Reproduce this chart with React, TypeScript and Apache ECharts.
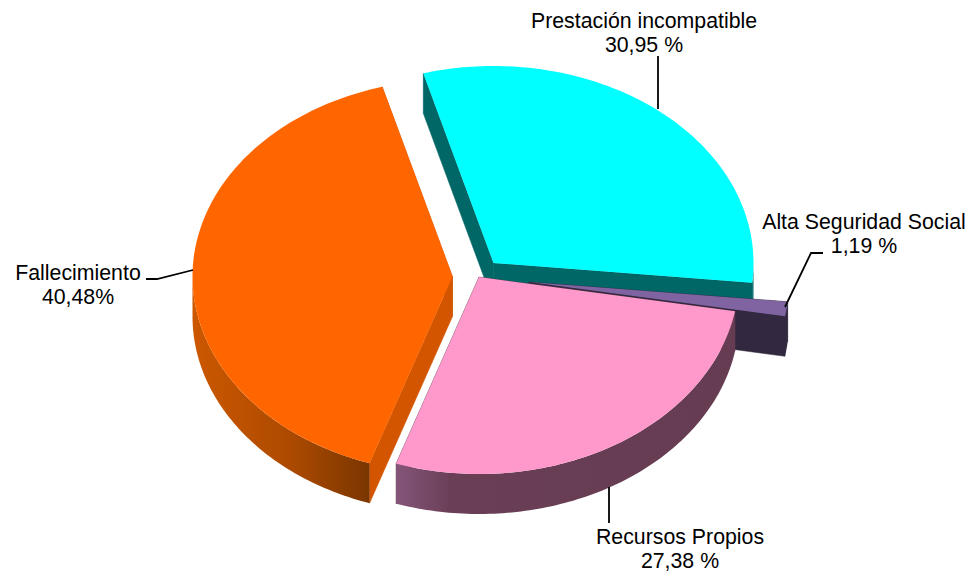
import React, { useEffect, useRef } from "react";
import * as echarts from "echarts";

const categories = ["Fallecimiento", "Prestación incompatible", "Alta Seguridad Social", "Recursos Propios"];
const percentValues = [40.48, 30.95, 1.19, 27.38];
const percentLabels = ["40,48%", "30,95 %", "1,19 %", "27,38 %"];

const startAngle = 108.6;
const radiusX = 260;
const radiusY = 197;
const depth = 40;
const centers = [[452.5, 276.5], [493.5, 263], [529, 282], [479, 277]];
const topColors = ["#FF6600", "#00FFFF", "#8064A2", "#FF99CC"];
const sideColors = ["#D35500", "#006666", "#32283F", "#663C52"];
const rimStops = [
  [[0, "#CC5800"], [0.55, "#AD4A00"], [1, "#7A3600"]],
  [[0, "#006666"], [1, "#006666"]],
  [[0, "#32283F"], [1, "#32283F"]],
  [[0, "#85557A"], [0.16, "#6A3F56"], [1, "#663C52"]],
];
const drawOrder = [1, 2, 0, 3];

const labelAnchors = [[78, 273], [644, 21], [864, 222], [680, 537]];
const leaderLines = [
  [[146, 279], [157, 279], [193, 270]],
  [[658, 56], [658, 109]],
  [[823, 253], [811, 253], [785, 307]],
  [[609, 487], [609, 523]],
];

const rad = (d: number) => (d * Math.PI) / 180;

function arcPoints(c: number[], a0: number, a1: number, dy = 0) {
  const n = Math.max(2, Math.ceil(Math.abs(a1 - a0)));
  const pts: number[][] = [];
  for (let i = 0; i <= n; i++) {
    const t = rad(a0 + ((a1 - a0) * i) / n);
    pts.push([c[0] + radiusX * Math.cos(t), c[1] + radiusY * Math.sin(t) + dy]);
  }
  return pts;
}

function sliceAngles(index: number) {
  const total = percentValues.reduce((s, v) => s + v, 0);
  let a = startAngle;
  for (let i = 0; i < index; i++) a += (percentValues[i] / total) * 360;
  return [a, a + (percentValues[index] / total) * 360];
}

function renderSlice(params: any, api: any) {
  const idx = drawOrder[params.dataIndex];
  const value = api.value(0);
  const c = centers[idx];
  const [a0] = sliceAngles(idx);
  const a1 = a0 + (value / 100) * 360;
  const children: any[] = [];
  const sideStyle = { fill: sideColors[idx], stroke: sideColors[idx], lineWidth: 0.5 };
  const radialWall = (a: number) => {
    const t = rad(a);
    const p = [c[0] + radiusX * Math.cos(t), c[1] + radiusY * Math.sin(t)];
    return {
      type: "polygon",
      shape: { points: [c, p, [p[0], p[1] + depth], [c[0], c[1] + depth]] },
      style: sideStyle,
    };
  };
  children.push(radialWall(a0), radialWall(a1));

  // visible part of the rim: the lower half of the ellipse
  for (const [lo, hi] of [[0, 180], [360, 540], [-360, -180]]) {
    const s = Math.max(a0, lo);
    const e = Math.min(a1, hi);
    if (e > s) {
      const top = arcPoints(c, s, e);
      const bottom = arcPoints(c, s, e, depth).reverse();
      const pts = top.concat(bottom);
      const stops = rimStops[idx].map((st) => ({ offset: st[0] as number, color: st[1] as string }));
      children.push({
        type: "polygon",
        shape: { points: pts },
        style: {
          fill: new echarts.graphic.LinearGradient(0, 0, 1, 0, stops),
          stroke: sideColors[idx],
          lineWidth: 0,
        },
      });
    }
  }
  children.push({
    type: "polygon",
    shape: { points: [c].concat(arcPoints(c, a0, a1)) },
    style: { fill: topColors[idx] },
  });
  return { type: "group", children };
}

export default function App() {
  const ref = useRef<HTMLDivElement>(null);
  useEffect(() => {
    document.body.style.margin = "0";
    const chart = echarts.init(ref.current!, undefined, { renderer: "svg" });
    const textStyle = (text: string, x: number, y: number) => ({
      type: "text",
      x,
      y,
      silent: true,
      style: {
        text,
        fontFamily: "Liberation Sans",
        fontSize: 21.3,
        fill: "#000000",
        textAlign: "center",
        textVerticalAlign: "middle",
      },
    });
    const graphics: any[] = [];
    categories.forEach((name, i) => {
      const [x, y] = labelAnchors[i];
      graphics.push(textStyle(name, x, y), textStyle(percentLabels[i], x, y + 24));
      graphics.push({
        type: "polyline",
        silent: true,
        shape: { points: leaderLines[i] },
        style: { stroke: "#000000", lineWidth: 1.8, fill: "none" },
        z: 10,
      });
    });
    chart.setOption({
      animation: false,
      backgroundColor: "#ffffff",
      series: [
        {
          type: "custom",
          coordinateSystem: "none",
          renderItem: renderSlice,
          data: drawOrder.map((i) => ({ name: categories[i], value: [percentValues[i]] })),
          silent: true,
          clip: false,
        },
      ],
      graphic: graphics,
    });
    return () => chart.dispose();
  }, []);
  return <div ref={ref} style={{ position: "absolute", left: 0, top: 0, width: 968, height: 573 }} />;
}
